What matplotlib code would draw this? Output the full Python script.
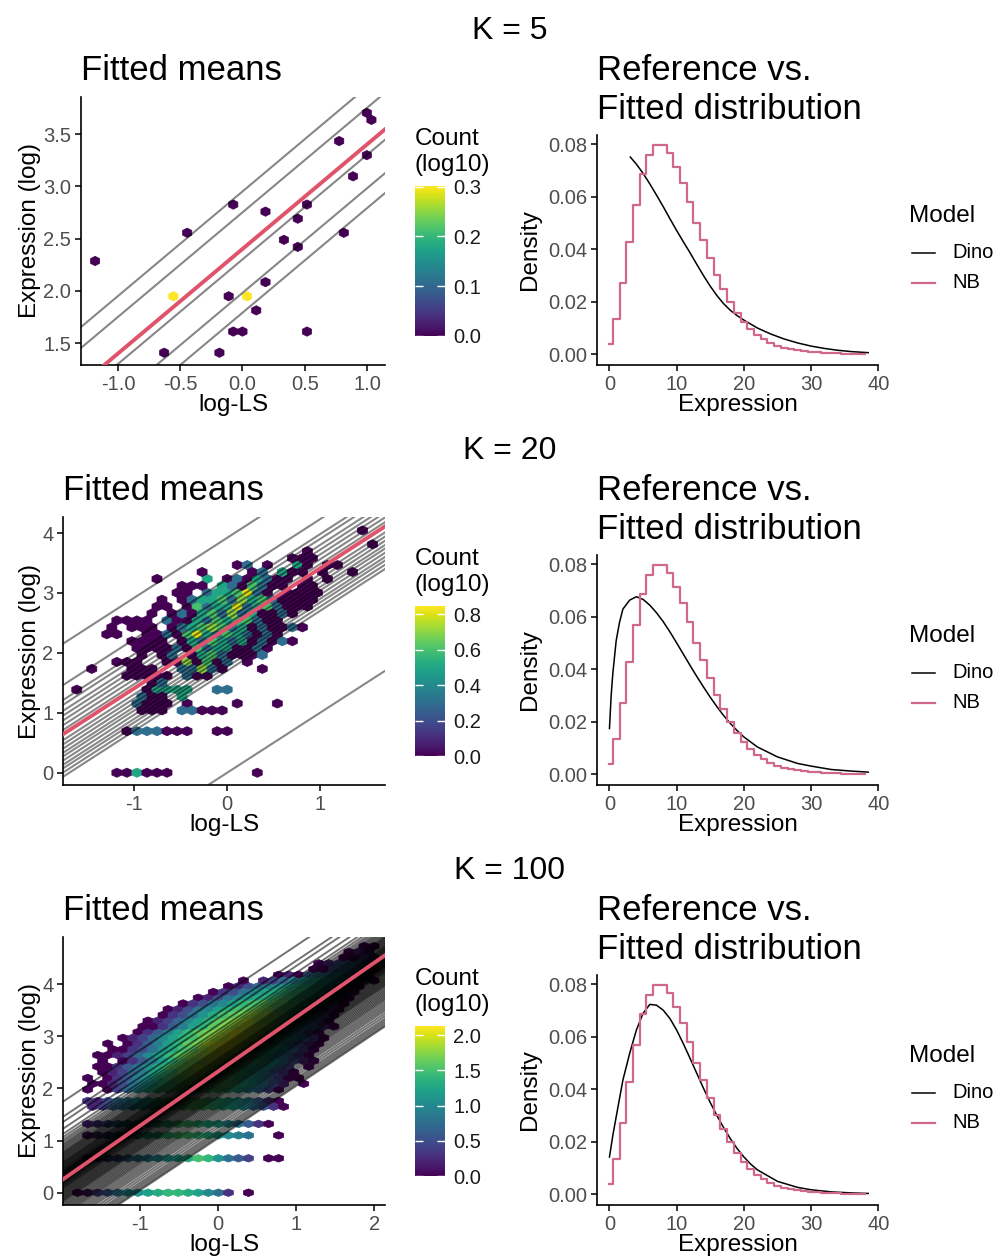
import numpy as np
import matplotlib
matplotlib.use('Agg')
import matplotlib.pyplot as plt
from matplotlib.lines import Line2D
from matplotlib.ticker import FormatStrFormatter

plt.rcParams['font.family'] = ['Liberation Sans', 'DejaVu Sans']
plt.rcParams['axes.unicode_minus'] = False

W, H = 995, 1260
ROW_SHIFT = 420

RED = '#DF536B'
NB_PINK = '#D0688A'
TICK_GREY = '#4D4D4D'

# hex cell code -> log10(count), in steps of 0.1 ('.' = empty cell)
LEVELS = '0123456789abcdefghijk'

# ---------------------------------------------------------------
# Reference NB pmf (same in every row)
# ---------------------------------------------------------------
NB_X = list(range(39))
NB_PMF = [0.0039, 0.0137, 0.0274, 0.0427, 0.0569, 0.0686, 0.0759, 0.0797,
          0.0797, 0.0768, 0.0715, 0.0652, 0.0582, 0.0502, 0.0435, 0.0366,
          0.0302, 0.0251, 0.0201, 0.0159, 0.0124, 0.0099, 0.0076, 0.0058,
          0.0044, 0.0034, 0.0026, 0.0021, 0.0017, 0.0014, 0.0011, 0.0009,
          0.0007, 0.0005, 0.0004, 0.0003, 0.0002, 0.0002, 0.0001]

# ---------------------------------------------------------------
# K = 5
# ---------------------------------------------------------------
K5_HEX_X = [-1.185, -0.443, -0.074, 0.186, -0.561, 0.034, -0.111, 0.186,
            0.108, -0.074, 0.000, -0.636, -0.189, 0.336, 0.446, 0.446,
            0.524, 0.520, 0.778, 0.890, 0.818, 1.003, 1.040, 1.003]
K5_HEX_Y = [2.300, 2.575, 2.852, 2.782, 1.959, 1.959, 1.959, 2.096,
            1.822, 1.618, 1.618, 1.407, 1.407, 2.505, 2.715, 2.440,
            2.846, 1.618, 3.440, 3.124, 2.575, 3.705, 3.640, 3.300]
K5_HEX_LOGC = [0, 0, 0, 0, 0.301, 0.301, 0, 0,
               0, 0, 0, 0, 0, 0, 0, 0,
               0, 0, 0, 0, 0, 0, 0, 0]
K5_LINE_B = [2.95, 2.75, 2.30, 1.98, 1.79]
K5_RED_B, K5_RED_S = 2.40, 1.0
K5_DINO_X = [3.1, 4, 5, 6, 7, 8, 9, 10, 11, 12, 13, 14, 15, 16, 17, 18, 19, 20,
             22, 24, 26, 28, 30, 32, 34, 36, 38.5]
K5_DINO_Y = [0.0752, 0.0725, 0.0690, 0.0650, 0.0607, 0.0563, 0.0517, 0.0472,
             0.0429, 0.0387, 0.0343, 0.0300, 0.0260, 0.0224, 0.0193, 0.0168,
             0.0148, 0.0131, 0.0101, 0.0078, 0.0059, 0.0044, 0.0032, 0.0023,
             0.0016, 0.0011, 0.0007]

# ---------------------------------------------------------------
# K = 20   (rows top -> bottom, columns c = -16 .. 15)
# ---------------------------------------------------------------
K20_TOP_ROW, K20_C0 = 35, -16
K20_ROWS = [
    "........" "........" "........" ".....0..",   # 35
    "........" "........" "........" "........",
    "........" "........" "........" "......0.",
    "........" "........" "........" "0.......",
    "........" "........" "......00" "0.......",
    "........" "........" ".03.0..5" "0.00....",   # 30
    "........" ".....0.." "..03.500" ".0..0...",
    "........" ".0....5." "0305300." "0.0.....",
    "........" "...000.5" "306300.0" "0.......",
    "........" "...00.35" "56830.00" "00......",
    "........" ".0.03556" "37563000" "0.......",   # 25
    "........" ".00.0635" "58356300" "0.......",
    "........" "0.030563" "7350030." "........",
    ".....000" "0.300536" "566300.." "........",
    "....0.00" "0.035676" "35030030" "........",
    "....00.." "00306853" "653030.." "........",   # 20
    "......00" "00.05365" "3503030." "........",
    ".......0" "00030635" "50030..." "........",
    ".......0" ".03.0563" "0003...." "........",
    ".....000" "..007060" "3.0....." "........",
    "..0...00" "0..33730" "...0...." "........",   # 15
    "......00" "000.300." "........" "........",
    "........" "03......" "........" "........",
    ".0......" "05555..3" "3......." "........",
    ".......3" "00.5...." "........" "........",
    ".......3" "000.0..." ".0...0.." "........",   # 10
    ".......0" "00.33000" "........" "........",
    "........" "........" "........" "........",
    "........" "........" "........" "........",
    "......03" "33000..0" "0......." "........",
    "........" "........" "........" "........",   # 5
    "........" "........" "........" "........",
    "........" "........" "........" "........",
    "........" "........" "........" "........",
    "........" "........" "........" "........",
    ".....005" "000....." "...0...." "........",   # 0
]
K20_LINE_B = [3.92, 3.23, 2.98, 2.90, 2.80, 2.72, 2.64, 2.56, 2.48, 2.31,
              2.24, 2.17, 2.10, 2.04, 1.97, 1.90, 1.84, 1.77, 1.70, 0.00]
K20_RED_B, K20_RED_S = 2.41, 1.0
K20_DINO_X = [0, 0.25, 0.5, 1, 1.5, 2, 3, 4, 5, 6, 7, 8, 9, 10, 11, 12, 13, 14,
              15, 16, 17, 18, 19, 20, 22, 25, 28, 30, 33, 36, 38.5]
K20_DINO_Y = [0.0175, 0.0300, 0.0385, 0.0510, 0.0580, 0.0630, 0.0664, 0.0677,
              0.0667, 0.0645, 0.0616, 0.0582, 0.0543, 0.0501, 0.0458, 0.0415,
              0.0373, 0.0333, 0.0294, 0.0258, 0.0224, 0.0194, 0.0167, 0.0143,
              0.0105, 0.0067, 0.0042, 0.0032, 0.0019, 0.0013, 0.0009]

# ---------------------------------------------------------------
# K = 100   (rows top -> bottom, columns c = -15 .. 16)
# ---------------------------------------------------------------
K100_TOP_ROW, K100_C0 = 43, -15
K100_ROWS = [
    "........" "........" "........" ".....00.",   # 43
    "........" "........" "........" "....021.",
    "........" "........" "........" "...0042.",
    "........" "........" "........" ".025763.",   # 40
    "........" "........" "........" "0057863.",
    "........" "........" ".....020" "689a963.",
    "........" "........" ".0.2479b" "ccba740.",
    "........" "........" "02579bcd" "dcb851..",
    "........" "......03" "58acdeee" "dc962...",   # 35
    "........" ".....025" "8acdeffe" "db840...",
    "........" "...0358a" "cefgggfe" "c950....",
    "........" "..0258ac" "efghhgfd" "b730....",
    "........" ".0358bdf" "ghiihgec" "950.....",
    "........" "0247aceg" "hijihgeb" "840.....",   # 30
    ".......0" "0369cegh" "ijjihfda" "630.....",
    ".......0" "369ceghi" "jkjigec8" "40......",
    ".....024" "7acefhij" "kjihfda7" "30......",
    "....0.03" "69ceghjk" "kjhgec85" "20......",
    "....0035" "8bdfgijk" "jigfda74" "0.......",   # 25
    "...00247" "aceghijj" "ihfec963" "0.......",
    "...0.036" "9ceghiji" "hgfdb852" "0.......",
    "...00368" "bdfghjih" "gfeca74." "0.......",
    "...02479" "cefhiihg" "fec9630." "........",
    "..0.0369" "bdfghihg" "geca7400" "........",   # 20
    "..00258a" "cefghhgg" "fdb852.0" "........",
    "..0.047a" "cefghggf" "eca740.." "........",
    "........" "........" "........" "........",
    "..32579b" "cefgggfe" "db9630.." "........",
    "..24689b" "cdefgfed" "ca8630.." "........",   # 15
    "........" "........" "........" "........",
    "........" "........" "........" "........",
    "..23579a" "cdeffedc" "a8630..." "........",
    "........" "........" "........" "........",
    "..13579b" "cdeffedc" "a98..0.." "........",   # 10
    "........" "........" "........" "........",
    "........" "........" "........" "........",
    "........" "........" "........" "........",
    "..124578" "9abcdfeb" "864.00.." "........",
    "........" "........" "........" "........",   # 5
    "........" "........" "........" "........",
    "........" "........" "........" "........",
    "........" "........" "........" "........",
    "........" "........" "........" "........",
    ".01468ab" "cdeedca8" "3.0....." "........",   # 0
]
K100_LINE_B = [3.74, 3.45, 3.35, 3.22, 3.12, 3.06, 3.01, 2.97, 2.93, 2.90,
               2.87, 2.84, 2.81, 2.78, 2.76, 2.74, 2.72, 2.70, 2.68, 2.66,
               2.64, 2.62, 2.60, 2.58, 2.57, 2.55, 2.54, 2.52, 2.51, 2.49,
               2.48, 2.46, 2.45, 2.44, 2.42, 2.41, 2.40, 2.39, 2.38, 2.37,
               2.36, 2.35, 2.34, 2.33, 2.32, 2.31, 2.30, 2.29, 2.28, 2.27,
               2.26, 2.25, 2.24, 2.23, 2.22, 2.21, 2.20, 2.19, 2.18, 2.16,
               2.15, 2.14, 2.12, 2.11, 2.09, 2.08, 2.06, 2.04, 2.02, 2.00,
               1.98, 1.96, 1.94, 1.92, 1.90, 1.88, 1.86, 1.84, 1.82, 1.79,
               1.76, 1.73, 1.70, 1.67, 1.64, 1.61, 1.58, 1.55, 1.51, 1.47,
               1.43, 1.39, 1.35, 1.30, 1.25, 1.20, 1.16, 1.12, 1.08, 1.05]
K100_RED_B, K100_RED_S = 2.33, 1.04
K100_DINO_X = [0, 0.5, 1, 2, 3, 4, 5, 6, 7, 8, 9, 10, 11, 12, 13, 14, 15, 16,
               17, 18, 19, 20, 21, 22, 25, 28, 30, 33, 36, 38.5]
K100_DINO_Y = [0.0143, 0.0225, 0.0296, 0.0436, 0.0537, 0.0626, 0.0690, 0.0724,
               0.0721, 0.0702, 0.0670, 0.0626, 0.0574, 0.0518, 0.0461, 0.0404,
               0.0350, 0.0300, 0.0254, 0.0212, 0.0175, 0.0143, 0.0116, 0.0094,
               0.0050, 0.0027, 0.0018, 0.0010, 0.0006, 0.0004]


def grid_cells(rows, top_row, c0, sx, dy):
    """Turn a hex-row code map into cell centres and log10 counts."""
    xs, ys, cs = [], [], []
    for i, row in enumerate(rows):
        assert len(row) == 32
        j = top_row - i
        for k, ch in enumerate(row):
            if ch == '.':
                continue
            xs.append((c0 + k + 0.5 * (j % 2)) * sx)
            ys.append(j * dy)
            cs.append(LEVELS.index(ch) / 10)
    return xs, ys, cs


def px_rect(left, top, right, bottom):
    return [left / W, 1 - bottom / H, (right - left) / W, (bottom - top) / H]


def fx(x):
    return x / W


def fy(y):
    return 1 - y / H


def style_axes(ax):
    for s in ('top', 'right'):
        ax.spines[s].set_visible(False)
    for s in ('left', 'bottom'):
        ax.spines[s].set_linewidth(1.2)
        ax.spines[s].set_color('black')
    ax.tick_params(length=4, width=1.1, color='black', labelsize=14.5,
                   labelcolor=TICK_GREY, pad=3)


fig = plt.figure(figsize=(W / 100, H / 100), dpi=100)

k5_x, k5_y, k5_c = K5_HEX_X, K5_HEX_Y, K5_HEX_LOGC
k20_x, k20_y, k20_c = grid_cells(K20_ROWS, K20_TOP_ROW, K20_C0, 0.108, 0.1155)
k100_x, k100_y, k100_c = grid_cells(K100_ROWS, K100_TOP_ROW, K100_C0, 0.129, 0.11)

rows = [
    dict(label='K = 5', hx=k5_x, hy=k5_y, hc=k5_c,
         extent=(-18 * 0.074, 16 * 0.074, 1.34, 1.34 + 19 * 0.135), grid=(34, 19),
         vmax=np.log10(2), cticks=[0.0, 0.1, 0.2, 0.3],
         lines=K5_LINE_B, red=(K5_RED_B, K5_RED_S), lw=1.5, alpha=0.47,
         xlim=(-1.297, 1.145), ylim=(1.29, 3.854),
         xticks=[-1.0, -0.5, 0.0, 0.5, 1.0], yticks=[1.5, 2.0, 2.5, 3.0, 3.5],
         fmt='%.1f', left=81, dino=(K5_DINO_X, K5_DINO_Y)),
    dict(label='K = 20', hx=k20_x, hy=k20_y, hc=k20_c,
         extent=(-16 * 0.108, 16 * 0.108, 0, 18 * 0.231), grid=(32, 18),
         vmax=np.log10(7), cticks=[0.0, 0.2, 0.4, 0.6, 0.8],
         lines=K20_LINE_B, red=(K20_RED_B, K20_RED_S), lw=1.5, alpha=0.47,
         xlim=(-1.765, 1.70), ylim=(-0.205, 4.267),
         xticks=[-1, 0, 1], yticks=[0, 1, 2, 3, 4],
         fmt='%d', left=63.3, dino=(K20_DINO_X, K20_DINO_Y)),
    dict(label='K = 100', hx=k100_x, hy=k100_y, hc=k100_c,
         extent=(-15 * 0.129, 17 * 0.129, 0, 22 * 0.22), grid=(32, 22),
         vmax=2.13, cticks=[0.0, 0.5, 1.0, 1.5, 2.0],
         lines=K100_LINE_B, red=(K100_RED_B, K100_RED_S), lw=1.4, alpha=0.55,
         xlim=(-1.99, 2.14), ylim=(-0.236, 4.906),
         xticks=[-1, 0, 1, 2], yticks=[0, 1, 2, 3, 4],
         fmt='%d', left=63.3, dino=(K100_DINO_X, K100_DINO_Y)),
]

for r, p in enumerate(rows):
    off = r * ROW_SHIFT

    # row header and panel titles
    fig.text(fx(510), fy(31 + off), p['label'], fontsize=23, ha='center', va='center')
    fig.text(fx(p['left']), fy(80 + off), 'Fitted means', fontsize=25,
             ha='left', va='baseline')
    fig.text(fx(597), fy(80 + off), 'Reference vs.', fontsize=25,
             ha='left', va='baseline')
    fig.text(fx(597), fy(119 + off), 'Fitted distribution', fontsize=25,
             ha='left', va='baseline')

    # ---- fitted means: hex counts + per-cluster fitted lines ----
    ax = fig.add_axes(px_rect(p['left'], 97 + off, 385, 365 + off))
    hb = ax.hexbin(p['hx'], p['hy'], C=p['hc'], reduce_C_function=np.max,
                   gridsize=p['grid'], extent=p['extent'], cmap='viridis',
                   vmin=0, vmax=p['vmax'], linewidths=0.5, edgecolors='face',
                   zorder=1)
    for b in p['lines']:
        ax.axline((0, b), slope=1.0, color='black', alpha=p['alpha'],
                  lw=p['lw'], zorder=2)
    ax.axline((0, p['red'][0]), slope=p['red'][1], color=RED, lw=2.8, zorder=3)
    ax.set_xlim(*p['xlim'])
    ax.set_ylim(*p['ylim'])
    ax.set_xticks(p['xticks'])
    ax.set_yticks(p['yticks'])
    ax.xaxis.set_major_formatter(FormatStrFormatter(p['fmt']))
    ax.yaxis.set_major_formatter(FormatStrFormatter(p['fmt']))
    style_axes(ax)
    fig.text(fx((p['left'] + 385) / 2), fy(411 + off), 'log-LS', fontsize=17.5,
             ha='center', va='baseline')
    fig.text(fx(30), fy(231 + off), 'Expression (log)', fontsize=17.5,
             rotation=90, ha='center', va='center')

    # colour bar
    cax = fig.add_axes(px_rect(415, 186 + off, 445, 336 + off))
    cb = fig.colorbar(hb, cax=cax, ticks=p['cticks'], format='%.1f')
    cb.outline.set_visible(False)
    cax.tick_params(direction='in', length=6, width=1.0, color='white',
                    left=True, right=True, labelsize=14.5, labelcolor='#1A1A1A',
                    pad=6)
    fig.text(fx(415), fy(145 + off), 'Count', fontsize=17.5, ha='left', va='baseline')
    fig.text(fx(415), fy(171 + off), '(log10)', fontsize=17.5, ha='left', va='baseline')

    # ---- reference vs fitted distribution ----
    ax2 = fig.add_axes(px_rect(596.7, 135 + off, 878.3, 365 + off))
    ax2.plot(p['dino'][0], p['dino'][1], color='black', lw=1.1, zorder=2)
    ax2.step(NB_X, NB_PMF, where='mid', color=NB_PINK, lw=1.6, zorder=3)
    ax2.set_xlim(-1.9, 39.95)
    ax2.set_ylim(-0.004, 0.0836)
    ax2.set_xticks([0, 10, 20, 30, 40])
    ax2.set_yticks([0.0, 0.02, 0.04, 0.06, 0.08])
    ax2.yaxis.set_major_formatter(FormatStrFormatter('%.2f'))
    style_axes(ax2)
    fig.text(fx(737.5), fy(411 + off), 'Expression', fontsize=17.5,
             ha='center', va='baseline')
    fig.text(fx(530), fy(250 + off), 'Density', fontsize=17.5,
             rotation=90, ha='center', va='center')

    # legend
    fig.text(fx(909), fy(222 + off), 'Model', fontsize=17.5, ha='left', va='baseline')
    for k, (name, col, w) in enumerate([('Dino', 'black', 1.1), ('NB', NB_PINK, 1.6)]):
        yy = fy(253 + 30 * k + off)
        fig.add_artist(Line2D([fx(912), fx(935)], [yy, yy], color=col, lw=w,
                              transform=fig.transFigure))
        fig.text(fx(952), yy, name, fontsize=14.5, ha='left', va='center')

fig.savefig('out.png', dpi=100)
